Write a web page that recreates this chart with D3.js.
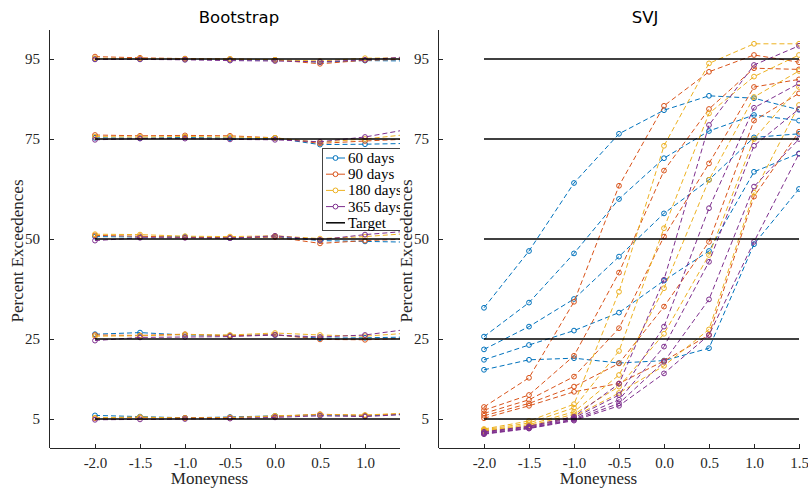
<!DOCTYPE html>
<html lang="en">
<head>
<meta charset="UTF-8" />
<title>Bootstrap vs SVJ exceedences</title>
<script src="https://cdn.jsdelivr.net/npm/d3@7/dist/d3.min.js"></script>
<style>
  body { margin: 0; background: #fff; }
  svg { display: block; }
</style>
</head>
<body>
<svg width="808" height="489"></svg>
<script>
  // moneyness grid, shared by both panels
  const moneyness = [-2.0, -1.5, -1.0, -0.5, 0.0, 0.5, 1.0, 1.5]
  const maturities = ['60 days', '90 days', '180 days', '365 days']
  const targets = [5, 25, 50, 75, 95]
  const yTicks = [5, 25, 50, 75, 95]
  const xTicks = [-2.0, -1.5, -1.0, -0.5, 0.0, 0.5, 1.0, 1.5]
  const colors = ['#0072BD', '#D95319', '#EDB120', '#7E2F8E']

  // Bootstrap: one line per maturity per target level (5,25,50,75,95)
  const boot60 = [
    [5.9, 5.6, 5.3, 5.5, 5.8, 6.0, 5.8, 6.2],
    [26.2, 26.6, 26.0, 25.9, 26.0, 25.2, 25.3, 25.5],
    [50.6, 50.5, 50.6, 50.2, 50.6, 49.6, 49.4, 49.2],
    [75.3, 75.2, 75.4, 75.2, 75.2, 73.6, 73.7, 73.9],
    [95.0, 95.0, 94.9, 94.8, 94.7, 94.2, 94.6, 94.5]
  ]
  const boot90 = [
    [5.2, 5.4, 5.3, 5.4, 5.6, 6.2, 5.9, 6.4],
    [26.0, 25.9, 26.2, 25.8, 26.1, 24.9, 24.8, 25.2],
    [50.9, 50.7, 50.4, 50.3, 50.5, 48.9, 49.6, 50.0],
    [76.0, 75.8, 75.9, 75.8, 75.3, 73.9, 74.5, 75.0],
    [95.6, 95.3, 95.1, 95.0, 94.8, 93.8, 94.7, 94.9]
  ]
  const boot180 = [
    [5.3, 5.5, 5.2, 5.3, 5.8, 6.1, 6.0, 6.5],
    [25.7, 25.8, 26.1, 26.0, 26.5, 26.0, 25.7, 26.5],
    [51.2, 51.1, 50.7, 50.6, 50.8, 50.1, 50.6, 51.4],
    [75.6, 75.5, 75.6, 75.5, 75.3, 74.2, 75.0, 76.2],
    [95.2, 95.1, 95.0, 95.0, 94.8, 94.5, 95.2, 95.3]
  ]
  const boot365 = [
    [4.8, 4.9, 5.0, 5.1, 5.4, 5.8, 5.6, 6.2],
    [24.6, 25.4, 25.5, 25.6, 26.0, 25.5, 26.0, 27.5],
    [49.6, 50.3, 50.3, 50.2, 50.8, 49.8, 51.1, 52.0],
    [74.8, 75.1, 75.1, 74.9, 74.8, 74.3, 75.5, 77.5],
    [94.9, 94.9, 94.8, 94.6, 94.5, 94.3, 94.8, 95.6]
  ]

  // SVJ
  const svj60 = [
    [32.8, 47.0, 64.0, 76.3, 82.2, 85.8, 85.2, 82.3],
    [25.6, 34.1, 46.4, 60.0, 70.2, 77.0, 81.0, 79.6],
    [22.4, 28.1, 35.0, 45.6, 56.4, 64.8, 75.4, 76.3],
    [19.8, 23.5, 27.1, 31.6, 39.6, 47.0, 66.8, 71.4],
    [17.3, 19.8, 20.2, 19.0, 19.6, 22.7, 48.7, 62.5]
  ]
  const svj90 = [
    [8.0, 15.3, 34.3, 63.3, 83.3, 91.8, 96.0, 94.2],
    [7.2, 11.0, 20.8, 41.6, 67.1, 82.5, 92.7, 92.4],
    [6.4, 9.8, 15.6, 27.7, 50.6, 68.9, 88.0, 89.9],
    [5.8, 8.9, 13.1, 18.9, 33.1, 49.3, 79.6, 86.4],
    [5.2, 8.3, 11.8, 13.9, 19.5, 26.0, 60.6, 76.8]
  ]
  const svj180 = [
    [2.5, 4.5, 8.7, 36.8, 73.3, 93.9, 98.8, 98.8],
    [2.3, 4.0, 7.8, 22.0, 52.7, 81.4, 90.6, 96.0],
    [2.1, 3.6, 6.8, 16.0, 37.7, 64.8, 85.5, 92.0],
    [2.0, 3.3, 6.2, 13.1, 26.3, 46.0, 75.0, 88.0],
    [1.9, 3.1, 5.6, 11.5, 18.3, 27.4, 61.6, 83.5]
  ]
  const svj365 = [
    [1.8, 3.2, 5.6, 13.8, 39.8, 78.5, 93.5, 98.3],
    [1.6, 3.0, 5.3, 11.0, 28.1, 57.7, 82.8, 88.9],
    [1.4, 2.8, 5.0, 9.8, 23.1, 44.3, 73.3, 82.5],
    [1.3, 2.7, 4.8, 8.9, 19.3, 34.9, 63.1, 75.0],
    [1.2, 2.6, 4.6, 8.3, 16.4, 26.0, 49.3, 71.3]
  ]

  const svg = d3.select('svg')
  const axisColor = '#262626'
  const serif = '"Liberation Serif", "Times New Roman", serif'

  const panels = [
    { title: 'Bootstrap', titleX: 239, left: 50, clipRight: 400, series: [boot60, boot90, boot180, boot365], legend: true },
    { title: 'SVJ', titleX: 645, left: 439, clipRight: 808, series: [svj60, svj90, svj180, svj365], legend: false }
  ]
  const plotTop = 30
  const plotBottom = 448

  const y = d3.scaleLinear().domain([-2.25, 102.25]).range([plotBottom, plotTop])

  panels.forEach((p, pi) => {
    const x = d3.scaleLinear().domain([-2.5, 1.5]).range([p.left, p.left + 360])
    const right = Math.min(p.clipRight, p.left + 361)
    const g = svg.append('g')

    const clipId = 'clip' + pi
    g.append('clipPath').attr('id', clipId)
      .append('rect').attr('x', p.left).attr('y', plotTop - 5)
      .attr('width', right - p.left).attr('height', plotBottom - plotTop + 5)

    const plot = g.append('g').attr('clip-path', `url(#${clipId})`)
    const line = d3.line().x((d, i) => x(moneyness[i])).y(d => y(d))

    p.series.forEach((lines, si) => {
      lines.forEach(vals => {
        plot.append('path')
          .attr('d', line(vals))
          .attr('fill', 'none')
          .attr('stroke', colors[si])
          .attr('stroke-width', 1)
          .attr('stroke-dasharray', '5,3')
        plot.selectAll(null).data(vals).enter().append('circle')
          .attr('cx', (d, i) => x(moneyness[i]))
          .attr('cy', d => y(d))
          .attr('r', 2.4)
          .attr('fill', 'none')
          .attr('stroke', colors[si])
          .attr('stroke-width', 1)
      })
    })

    // target levels
    plot.selectAll(null).data(targets).enter().append('line')
      .attr('x1', x(-2.0)).attr('x2', x(1.5))
      .attr('y1', d => y(d)).attr('y2', d => y(d))
      .attr('stroke', '#000').attr('stroke-width', 1.5)

    // axes: small inward ticks like the original
    const xAxis = d3.axisBottom(x).tickValues(xTicks).tickFormat(d3.format('.1f'))
      .tickSizeInner(-4).tickSizeOuter(0).tickPadding(9)
    const gx = g.append('g').attr('transform', `translate(0,${plotBottom})`).call(xAxis)
    gx.select('.domain').attr('stroke', axisColor).attr('d', `M${p.left},0.5H${right}`)
    gx.selectAll('.tick').filter(d => x(d) > right + 0.5).remove()
    gx.selectAll('.tick line').attr('stroke', axisColor)
    gx.selectAll('text').attr('fill', axisColor)
      .style('font-family', serif).style('font-size', '15px')
      .text(d => d3.format('.1f')(d).replace('−', '-'))

    const yAxis = d3.axisLeft(y).tickValues(yTicks).tickSizeInner(-4).tickSizeOuter(0).tickPadding(10)
    const gy = g.append('g').attr('transform', `translate(${p.left},0)`).call(yAxis)
    gy.select('.domain').attr('stroke', axisColor).attr('d', `M-0.5,${plotTop}V${plotBottom}`)
    gy.selectAll('.tick line').attr('stroke', axisColor)
    gy.selectAll('text').attr('fill', axisColor)
      .style('font-family', serif).style('font-size', '15px')

    g.append('text')
      .attr('x', p.titleX).attr('y', 23)
      .attr('text-anchor', 'middle')
      .style('font-family', '"DejaVu Sans", sans-serif').style('font-size', '16.5px')
      .attr('fill', '#000')
      .text(p.title)

    g.append('text')
      .attr('x', x(-0.75) + 2).attr('y', 484)
      .attr('text-anchor', 'middle')
      .style('font-family', serif).style('font-size', '17px')
      .attr('fill', axisColor)
      .text('Moneyness')

    g.append('text')
      .attr('transform', `translate(${p.left - 27},251) rotate(-90)`)
      .attr('text-anchor', 'middle')
      .style('font-family', serif).style('font-size', '17px')
      .attr('fill', axisColor)
      .text('Percent Exceedences')

    if (p.legend) {
      const lg = g.append('g').attr('clip-path', `url(#${clipId})`)
      lg.append('rect')
        .attr('x', 322.5).attr('y', 148.5).attr('width', 90).attr('height', 82)
        .attr('fill', '#fff').attr('stroke', '#444').attr('stroke-width', 1)
      const items = maturities.map((m, i) => ({ label: m, color: colors[i], marker: true }))
        .concat([{ label: 'Target', color: '#000', marker: false }])
      items.forEach((it, i) => {
        const cy = 158 + i * 16.2
        lg.append('line')
          .attr('x1', 326).attr('x2', 345).attr('y1', cy).attr('y2', cy)
          .attr('stroke', it.color).attr('stroke-width', it.marker ? 1 : 1.5)
        if (it.marker) {
          lg.append('circle').attr('cx', 335.5).attr('cy', cy).attr('r', 2.4)
            .attr('fill', '#fff').attr('stroke', it.color).attr('stroke-width', 1)
        }
        lg.append('text')
          .attr('x', 348).attr('y', cy + 5)
          .style('font-family', serif).style('font-size', '15px')
          .attr('fill', '#000')
          .text(it.label)
      })
    }
  })
</script>
</body>
</html>
